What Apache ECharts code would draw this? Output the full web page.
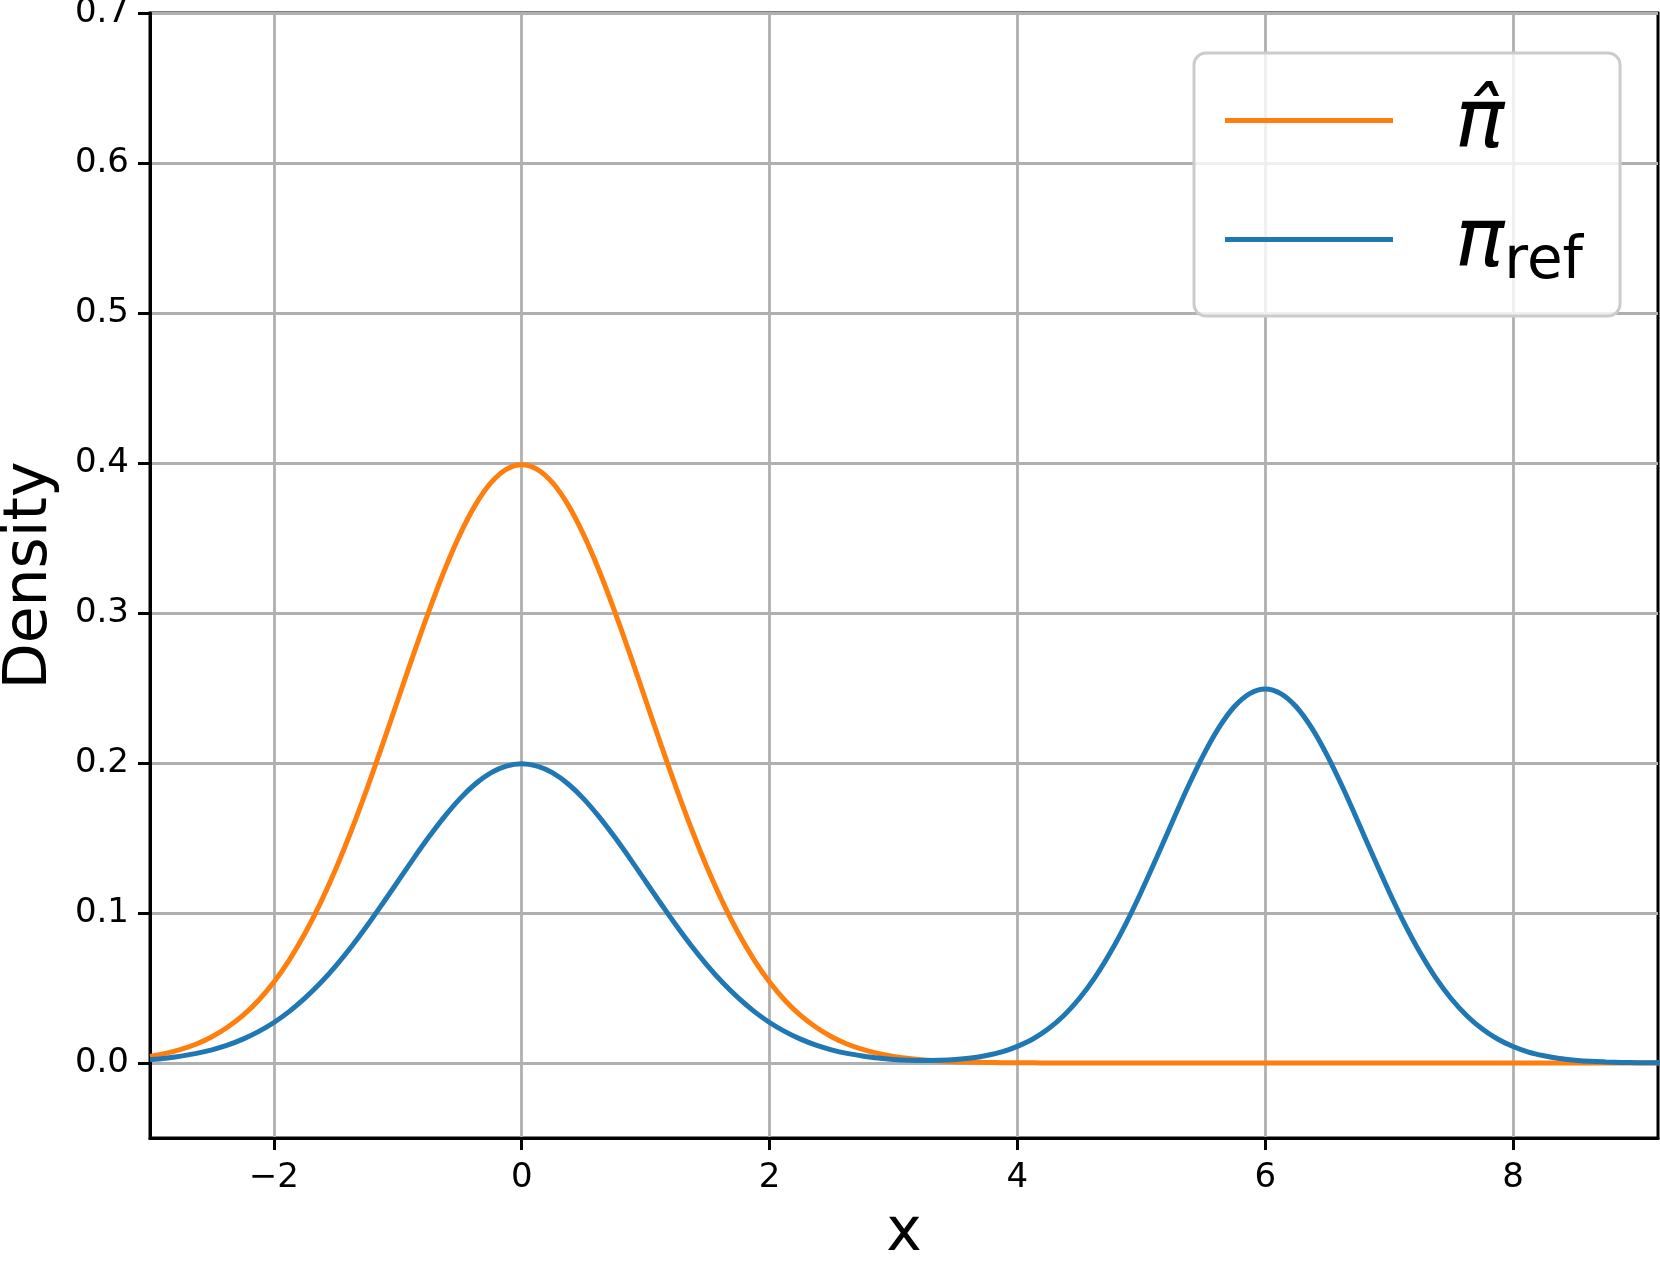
<!DOCTYPE html>
<html>
<head>
<meta charset="utf-8">
<script src="https://cdn.jsdelivr.net/npm/echarts@6/dist/echarts.min.js"></script>
<style>
  html, body { margin: 0; padding: 0; background: #fff; }
  #chart { width: 1660px; height: 1267px; }
</style>
</head>
<body>
<div id="chart"></div>
<script>
// x positions, step 0.125
var xValues = [
  -3, -2.875, -2.75, -2.625, -2.5, -2.375, -2.25, -2.125,
  -2, -1.875, -1.75, -1.625, -1.5, -1.375, -1.25, -1.125,
  -1, -0.875, -0.75, -0.625, -0.5, -0.375, -0.25, -0.125,
  0, 0.125, 0.25, 0.375, 0.5, 0.625, 0.75, 0.875,
  1, 1.125, 1.25, 1.375, 1.5, 1.625, 1.75, 1.875,
  2, 2.125, 2.25, 2.375, 2.5, 2.625, 2.75, 2.875,
  3, 3.125, 3.25, 3.375, 3.5, 3.625, 3.75, 3.875,
  4, 4.125, 4.25, 4.375, 4.5, 4.625, 4.75, 4.875,
  5, 5.125, 5.25, 5.375, 5.5, 5.625, 5.75, 5.875,
  6, 6.125, 6.25, 6.375, 6.5, 6.625, 6.75, 6.875,
  7, 7.125, 7.25, 7.375, 7.5, 7.625, 7.75, 7.875,
  8, 8.125, 8.25, 8.375, 8.5, 8.625, 8.75, 8.875,
  9, 9.125, 9.25
];
// orange curve (pi hat)
var piHat = [
  0.0044, 0.0064, 0.0091, 0.0127, 0.0175, 0.0238, 0.0317, 0.0417,
  0.0540, 0.0688, 0.0863, 0.1066, 0.1295, 0.1550, 0.1826, 0.2119,
  0.2420, 0.2721, 0.3011, 0.3282, 0.3521, 0.3719, 0.3867, 0.3958,
  0.3989, 0.3958, 0.3867, 0.3719, 0.3521, 0.3282, 0.3011, 0.2721,
  0.2420, 0.2119, 0.1826, 0.1550, 0.1295, 0.1066, 0.0863, 0.0688,
  0.0540, 0.0417, 0.0317, 0.0238, 0.0175, 0.0127, 0.0091, 0.0064,
  0.0044, 0.0030, 0.0020, 0.0013, 0.0009, 0.0006, 0.0004, 0.0002,
  0.0001, 0.0001, 0, 0, 0, 0, 0, 0,
  0, 0, 0, 0, 0, 0, 0, 0,
  0, 0, 0, 0, 0, 0, 0, 0,
  0, 0, 0, 0, 0, 0, 0, 0,
  0, 0, 0, 0, 0, 0, 0, 0,
  0, 0, 0
];
// blue curve (pi ref)
var piRef = [
  0.0022, 0.0032, 0.0046, 0.0064, 0.0088, 0.0119, 0.0159, 0.0209,
  0.0270, 0.0344, 0.0432, 0.0533, 0.0648, 0.0775, 0.0913, 0.1060,
  0.1210, 0.1361, 0.1506, 0.1641, 0.1761, 0.1860, 0.1934, 0.1979,
  0.1995, 0.1979, 0.1934, 0.1860, 0.1761, 0.1641, 0.1506, 0.1361,
  0.1210, 0.1060, 0.0913, 0.0775, 0.0648, 0.0533, 0.0432, 0.0344,
  0.0270, 0.0209, 0.0159, 0.0119, 0.0088, 0.0064, 0.0047, 0.0033,
  0.0024, 0.0019, 0.0017, 0.0018, 0.0023, 0.0033, 0.0050, 0.0074,
  0.0111, 0.0160, 0.0228, 0.0317, 0.0430, 0.0569, 0.0736, 0.0928,
  0.1142, 0.1371, 0.1607, 0.1838, 0.2051, 0.2234, 0.2375, 0.2463,
  0.2494, 0.2463, 0.2375, 0.2234, 0.2051, 0.1838, 0.1607, 0.1371,
  0.1142, 0.0928, 0.0736, 0.0569, 0.0430, 0.0317, 0.0228, 0.0160,
  0.0110, 0.0073, 0.0048, 0.0030, 0.0019, 0.0011, 0.0007, 0.0004,
  0.0002, 0.0001, 0.0001
];
var xTicks = [-2, 0, 2, 4, 6, 8];
var yTicks = [0, 0.1, 0.2, 0.3, 0.4, 0.5, 0.6, 0.7];

var font = "DejaVu Sans";

function pairs(ys) {
  return xValues.map(function (x, i) { return [x, ys[i]]; });
}

var myChart = echarts.init(document.getElementById("chart"));
var option = {
  animation: false,
  backgroundColor: "#fff",
  grid: {
    left: 150, right: 2, top: 13, bottom: 129,
    outerBoundsMode: "none",
    containLabel: false,
    show: true, borderColor: "#000", borderWidth: 3,
  },
  xAxis: {
    type: "value",
    min: -3, max: 9.17,
    splitNumber: 6,
    name: "x",
    nameLocation: "middle",
    nameGap: 66,
    nameMoveOverlap: false,
    nameTextStyle: { fontFamily: font, fontSize: 60, color: "#000" },
    axisLine: { show: true, onZero: false, lineStyle: { color: "#000", width: 3 } },
    axisTick: { show: true, length: 12, customValues: xTicks, lineStyle: { color: "#000", width: 3 } },
    axisLabel: {
      customValues: xTicks,
      margin: 23,
      fontFamily: font, fontSize: 34, color: "#000",
      formatter: function (v) { return v < 0 ? "\u2212" + Math.abs(v) : String(v); },
    },
    splitLine: { show: true, lineStyle: { color: "#b0b0b0", width: 2.8 } },
  },
  yAxis: {
    type: "value",
    min: -0.05, max: 0.7,
    splitNumber: 8,
    name: "Density",
    nameLocation: "middle",
    nameRotate: 90,
    nameGap: 90,
    nameMoveOverlap: false,
    nameTextStyle: { fontFamily: font, fontSize: 60, color: "#000" },
    axisLine: { show: true, onZero: false, lineStyle: { color: "#000", width: 3 } },
    axisTick: { show: true, length: 12, customValues: yTicks, lineStyle: { color: "#000", width: 3 } },
    axisLabel: {
      customValues: yTicks,
      margin: 21,
      fontFamily: font, fontSize: 34, color: "#000",
      formatter: function (v) { return v.toFixed(1); },
    },
    splitLine: { show: true, lineStyle: { color: "#b0b0b0", width: 2.8 } },
  },
  legend: {
    orient: "vertical",
    left: 1194, top: 53,
    padding: [32, 37, 24, 31],
    itemGap: 31,
    itemWidth: 168, itemHeight: 5,
    icon: "rect",
    backgroundColor: "rgba(255,255,255,0.8)",
    borderColor: "#cccccc", borderWidth: 3, borderRadius: 12,
    data: ["pi_hat", "pi_ref"],
    formatter: function (name) {
      return name === "pi_hat" ? "{pi|\u03c0\u0302}" : "{pi|\u03c0}{sub|ref}";
    },
    textStyle: {
      rich: {
        pi: { fontFamily: font, fontStyle: "italic", fontSize: 82, lineHeight: 105, verticalAlign: "bottom", padding: [0, 0, 6, 57], color: "#000" },
        sub: { fontFamily: font, fontSize: 58, lineHeight: 105, verticalAlign: "bottom", color: "#000" },
      },
    },
  },
  series: [
    {
      name: "pi_hat",
      type: "line",
      symbol: "none",
      smooth: 0.3,
      data: pairs(piHat),
      color: "#ff7f0e",
      lineStyle: { width: 5 },
      z: 2,
    },
    {
      name: "pi_ref",
      type: "line",
      symbol: "none",
      smooth: 0.3,
      data: pairs(piRef),
      color: "#1f77b4",
      lineStyle: { width: 5 },
      z: 3,
    },
  ],
};
myChart.setOption(option);
</script>
</body>
</html>
